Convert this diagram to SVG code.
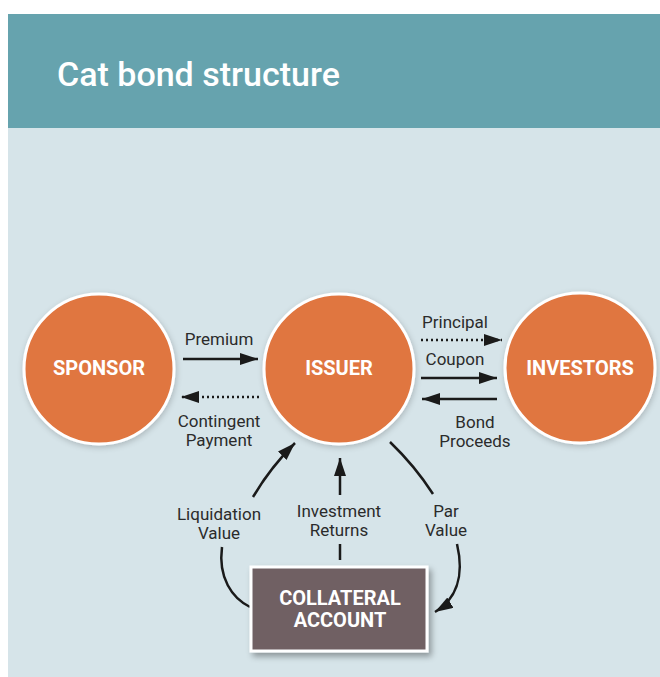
<svg xmlns="http://www.w3.org/2000/svg" width="660" height="677" viewBox="0 0 660 677">
<style>
.lbl{font-family:Roboto,"Liberation Sans",sans-serif;font-size:17px;fill:#2b2b2b;text-anchor:middle}
.node{font-family:Roboto,"Liberation Sans",sans-serif;font-weight:bold;font-size:20px;fill:#ffffff;text-anchor:middle}
.circ{fill:#e07640;stroke:#ffffff;stroke-width:3}
.ln{fill:none;stroke:#1a1a1a;stroke-width:2.5}
.dot{fill:none;stroke:#1a1a1a;stroke-width:2.5;stroke-dasharray:2 3}
</style>
<defs>
<marker id="ah" markerUnits="userSpaceOnUse" markerWidth="20" markerHeight="14" refX="18" refY="6" orient="auto">
<path d="M0,0 L18,6 L0,12 Z" fill="#1a1a1a"/>
</marker>
<filter id="sh" x="-20%" y="-20%" width="140%" height="140%">
<feGaussianBlur in="SourceAlpha" stdDeviation="3"/>
<feOffset dx="3" dy="4" result="b"/>
<feComponentTransfer><feFuncA type="linear" slope="0.35"/></feComponentTransfer>
<feMerge><feMergeNode/><feMergeNode in="SourceGraphic"/></feMerge>
</filter>
<filter id="sh2" x="-20%" y="-20%" width="140%" height="140%">
<feGaussianBlur in="SourceAlpha" stdDeviation="3"/>
<feOffset dx="1" dy="2" result="b"/>
<feComponentTransfer><feFuncA type="linear" slope="0.2"/></feComponentTransfer>
<feMerge><feMergeNode/><feMergeNode in="SourceGraphic"/></feMerge>
</filter>
</defs>
<rect x="0" y="0" width="660" height="677" fill="#ffffff"/>
<rect x="8" y="128" width="652" height="549" fill="#d6e4e9"/>
<rect x="8" y="14" width="652" height="114" fill="#66a3ae"/>
<text x="57" y="86" font-family="Roboto,'Liberation Sans',sans-serif" font-size="34" font-weight="500" fill="#ffffff">Cat bond structure</text>

<g id="connectors">
<line class="ln" x1="183" y1="359" x2="258" y2="359" marker-end="url(#ah)"/>
<line class="dot" x1="259" y1="397" x2="181" y2="397" marker-end="url(#ah)"/>
<line class="dot" x1="421" y1="340" x2="502" y2="340" marker-end="url(#ah)"/>
<line class="ln" x1="421" y1="378" x2="497" y2="378" marker-end="url(#ah)"/>
<line class="ln" x1="497" y1="399" x2="422" y2="399" marker-end="url(#ah)"/>
<path class="ln" d="M253,497 Q270,468 295,443" marker-end="url(#ah)"/>
<path class="ln" d="M222,547 C218,578 232,598 250,607"/>
<line class="ln" x1="340" y1="495" x2="340" y2="458" marker-end="url(#ah)"/>
<line class="ln" x1="340" y1="544" x2="340" y2="560"/>
<path class="ln" d="M390,442 Q415,466 433,494"/>
<path class="ln" d="M457,544 C465,578 455,600 435,612" marker-end="url(#ah)"/>
<text class="lbl" x="219" y="345">Premium</text>
<text class="lbl" x="219" y="427">Contingent</text>
<text class="lbl" x="219" y="446">Payment</text>
<text class="lbl" x="455" y="328">Principal</text>
<text class="lbl" x="455" y="365">Coupon</text>
<text class="lbl" x="475" y="428">Bond</text>
<text class="lbl" x="475" y="447">Proceeds</text>
<text class="lbl" x="219" y="519.5">Liquidation</text>
<text class="lbl" x="219" y="538.5">Value</text>
<text class="lbl" x="339" y="517">Investment</text>
<text class="lbl" x="339" y="536">Returns</text>
<text class="lbl" x="446" y="517">Par</text>
<text class="lbl" x="446" y="536">Value</text>
</g>

<g id="sponsor">
<circle class="circ" cx="99" cy="369" r="75" filter="url(#sh2)"/>
<text class="node" x="99" y="375">SPONSOR</text>
</g>
<g id="issuer">
<circle class="circ" cx="339" cy="369" r="75" filter="url(#sh2)"/>
<text class="node" x="339" y="375">ISSUER</text>
</g>
<g id="investors">
<circle class="circ" cx="580" cy="368" r="75" filter="url(#sh2)"/>
<text class="node" x="580" y="375">INVESTORS</text>
</g>
<g id="collateral">
<rect x="251" y="567" width="176" height="84" fill="#6f6064" stroke="#ffffff" stroke-width="3" filter="url(#sh)"/>
<text class="node" x="340" y="605" font-size="18.5">COLLATERAL</text>
<text class="node" x="340" y="627" font-size="18.5">ACCOUNT</text>
</g>
</svg>
